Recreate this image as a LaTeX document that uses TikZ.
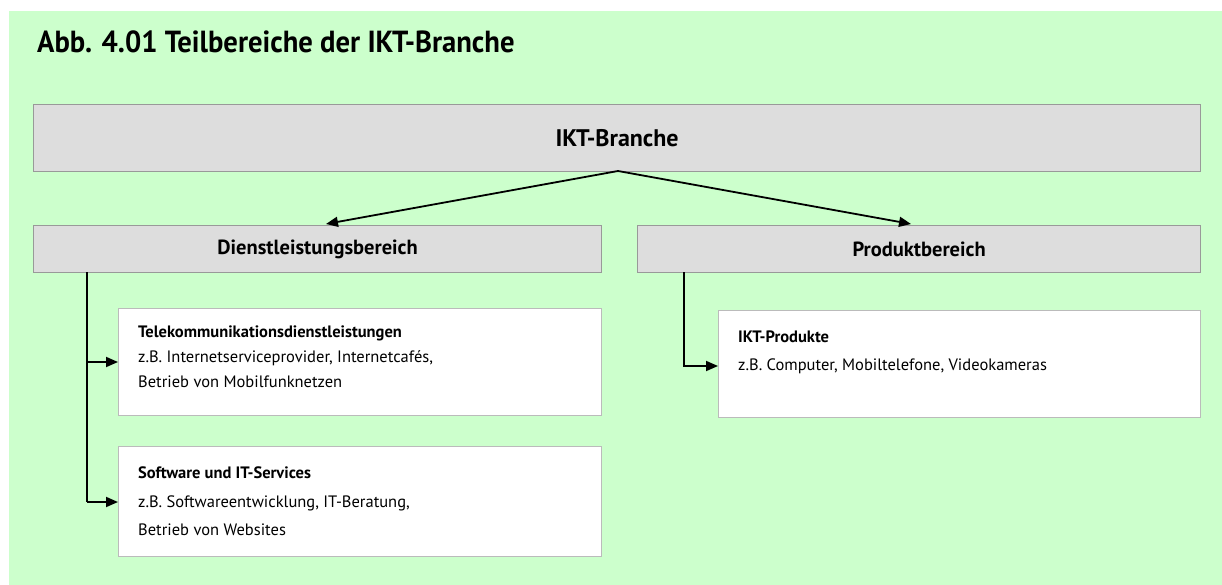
\documentclass[tikz,border=0pt]{standalone}
\usepackage{fontspec}
\setmainfont{PT Sans}
\usetikzlibrary{arrows.meta}
\definecolor{bggreen}{HTML}{CCFFCC}
\definecolor{boxgray}{HTML}{DDDDDD}
\definecolor{edgegray}{HTML}{999999}
\definecolor{edgelight}{HTML}{BBBBBB}
\tikzset{
  graybox/.style={draw=edgegray, line width=1.2pt, fill=boxgray, anchor=north west, inner sep=0pt},
  whitebox/.style={draw=edgelight, line width=1.2pt, fill=white, anchor=north west, inner sep=0pt},
  txt/.style={anchor=base west, inner sep=0pt, font=\fontsize{16.5}{19}\selectfont},
  boldtxt/.style={txt, font=\fontsize{16.5}{19}\selectfont\bfseries},
  conn/.style={line width=1.8pt, -{Triangle[length=12pt,width=10pt]}}
}
\begin{document}
\begin{tikzpicture}[x=1pt,y=-1pt]
\useasboundingbox (0,0) rectangle (1222,585);
\fill[white] (0,0) rectangle (1222,585);
\fill[bggreen] (9,11) rectangle (1222,585);
\node[anchor=base west, inner sep=0pt, font=\fontsize{30.5}{34}\selectfont\bfseries, xscale=0.94] (title) at (37,53) {Abb. 4.01 Teilbereiche der IKT-Branche};

\node[graybox, minimum width=1167pt, minimum height=67pt, font=\fontsize{24}{28}\selectfont\bfseries] (ikt) at (33,104) {IKT-Branche};
\node[graybox, minimum width=568pt, minimum height=47pt, font=\fontsize{20.5}{24}\selectfont\bfseries] (dl) at (33,225) {Dienstleistungsbereich};
\node[graybox, minimum width=563pt, minimum height=47pt, font=\fontsize{20.5}{24}\selectfont\bfseries] (pb) at (637,225) {Produktbereich};

\node[whitebox, minimum width=483pt, minimum height=107pt] (tk) at (118,308) {};
\node[whitebox, minimum width=483pt, minimum height=110pt] (sw) at (118,446) {};
\node[whitebox, minimum width=482pt, minimum height=107pt] (ip) at (718,310) {};

\node[boldtxt] (tk1) at (138,337) {Telekommunikationsdienstleistungen};
\node[txt] (tk2) at (138,362) {z.B. Internetserviceprovider, Internetcafés,};
\node[txt] (tk3) at (138,387) {Betrieb von Mobilfunknetzen};

\node[boldtxt] (sw1) at (138,478) {Software und IT-Services};
\node[txt] (sw2) at (138,507) {z.B. Softwareentwicklung, IT-Beratung,};
\node[txt] (sw3) at (138,535) {Betrieb von Websites};

\node[boldtxt] (ip1) at (738,342) {IKT-Produkte};
\node[txt] (ip2) at (738,370) {z.B. Computer, Mobiltelefone, Videokameras};

\coordinate (apex) at (618,171);
\draw[conn] (apex) -- (326,224);
\draw[conn] (apex) -- (911,224);

\coordinate (dlx) at (87,272);
\draw[line width=1.8pt] (dlx) -- (87,502);
\draw[conn] (87,362) -- (tk.west |- 0,362);
\draw[conn] (87,502) -- (sw.west |- 0,502);

\coordinate (pbx) at (684,272);
\draw[conn] (pbx) -- (684,366) -- (ip.west |- 0,366);
\end{tikzpicture}
\end{document}
